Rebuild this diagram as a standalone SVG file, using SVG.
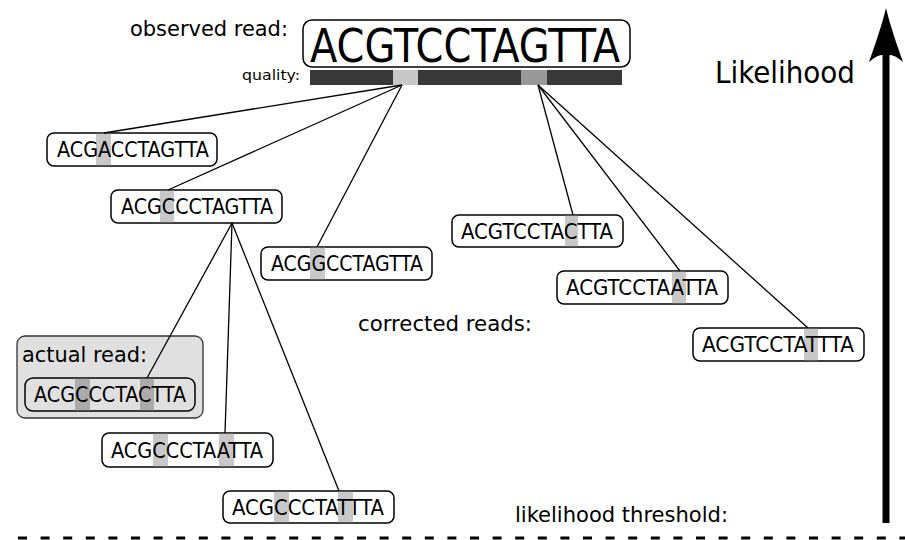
<svg xmlns="http://www.w3.org/2000/svg" width="905" height="540" viewBox="0 0 905 540">
<style>
text{font-family:"DejaVu Sans Condensed","DejaVu Sans","Liberation Sans",sans-serif;font-stretch:condensed;fill:#000}
.box{fill:#fff;stroke:#000;stroke-width:1.5}
.hl{fill:#c8c8c8}
.hld{fill:#ababab}
.rd{font-size:21px}
.lbl{font-size:22px}
.conn line{stroke:#000;stroke-width:1.3}
</style>
<rect width="905" height="540" fill="#fff"/>
<g id="observed">
<text x="130" y="36" class="lbl" textLength="158" lengthAdjust="spacingAndGlyphs">observed read:</text>
<rect x="303" y="20" width="327" height="47" rx="9" class="box" stroke-width="2"/>
<text x="310" y="62" font-size="47" textLength="310" lengthAdjust="spacingAndGlyphs">ACGTCCTAGTTA</text>
<text x="242" y="80" font-size="14" textLength="58" lengthAdjust="spacingAndGlyphs">quality:</text>
<rect x="310" y="70" width="312" height="15" fill="#383838"/>
<rect x="393" y="70" width="25" height="15" fill="#c8c8c8"/>
<rect x="521" y="70" width="26" height="15" fill="#999"/>
</g>
<g id="r1">
<rect x="47" y="133" width="170" height="33" rx="7" class="box"/>
<rect x="96" y="133.8" width="15" height="31.4" class="hl"/>
<text x="57" y="157" class="rd" textLength="152" lengthAdjust="spacingAndGlyphs">ACGACCTAGTTA</text>
</g>
<g id="r2">
<rect x="111" y="190" width="171" height="33" rx="7" class="box"/>
<rect x="160" y="190.8" width="14" height="31.4" class="hl"/>
<text x="121" y="214" class="rd" textLength="152" lengthAdjust="spacingAndGlyphs">ACGCCCTAGTTA</text>
</g>
<g id="r3">
<rect x="261" y="247" width="171" height="33" rx="7" class="box"/>
<rect x="310" y="247.8" width="15" height="31.4" class="hl"/>
<text x="271" y="271" class="rd" textLength="152" lengthAdjust="spacingAndGlyphs">ACGGCCTAGTTA</text>
</g>
<g id="r4">
<rect x="452" y="215" width="171" height="32" rx="7" class="box"/>
<rect x="565" y="215.8" width="13" height="30.4" class="hl"/>
<text x="461" y="238.5" class="rd" textLength="152" lengthAdjust="spacingAndGlyphs">ACGTCCTACTTA</text>
</g>
<g id="r5">
<rect x="557" y="271" width="171" height="33" rx="7" class="box"/>
<rect x="672" y="271.8" width="14" height="31.4" class="hl"/>
<text x="566" y="295" class="rd" textLength="152" lengthAdjust="spacingAndGlyphs">ACGTCCTAATTA</text>
</g>
<g id="r6">
<rect x="693" y="328" width="171" height="33" rx="7" class="box"/>
<rect x="804" y="328.8" width="14" height="31.4" class="hl"/>
<text x="702" y="352" class="rd" textLength="152" lengthAdjust="spacingAndGlyphs">ACGTCCTATTTA</text>
</g>
<g id="actual">
<rect x="17" y="336" width="186" height="82" rx="8" fill="#e0e0e0" stroke="#333" stroke-width="1.3"/>
<text x="22" y="362" class="lbl" textLength="125" lengthAdjust="spacingAndGlyphs">actual read:</text>
<rect x="25" y="378" width="170" height="33" rx="8" fill="#e0e0e0" stroke="#000" stroke-width="1.5"/>
<rect x="75" y="378.8" width="15" height="31.4" class="hld"/>
<rect x="140" y="378.8" width="14" height="31.4" class="hld"/>
<text x="34" y="402" class="rd" textLength="152" lengthAdjust="spacingAndGlyphs">ACGCCCTACTTA</text>
</g>
<g id="r8">
<rect x="102" y="433" width="171" height="34" rx="7" class="box"/>
<rect x="153" y="433.8" width="15" height="32.4" class="hl"/>
<rect x="219" y="433.8" width="15" height="32.4" class="hl"/>
<text x="111" y="457.5" class="rd" textLength="152" lengthAdjust="spacingAndGlyphs">ACGCCCTAATTA</text>
</g>
<g id="r9">
<rect x="223" y="491" width="171" height="32" rx="7" class="box"/>
<rect x="274" y="491.8" width="15" height="30.4" class="hl"/>
<rect x="338" y="491.8" width="15" height="30.4" class="hl"/>
<text x="232" y="514.5" class="rd" textLength="152" lengthAdjust="spacingAndGlyphs">ACGCCCTATTTA</text>
</g>
<g id="labels">
<text x="358" y="331" class="lbl" textLength="174" lengthAdjust="spacingAndGlyphs">corrected reads:</text>
<text x="715" y="83" font-size="31" textLength="140" lengthAdjust="spacingAndGlyphs">Likelihood</text>
<text x="515" y="522" class="lbl" textLength="213" lengthAdjust="spacingAndGlyphs">likelihood threshold:</text>
</g>
<g class="conn" id="connectors">
<line x1="402" y1="85" x2="104" y2="133"/>
<line x1="402" y1="85" x2="168" y2="190"/>
<line x1="402" y1="85" x2="317" y2="247"/>
<line x1="538" y1="85" x2="573" y2="215"/>
<line x1="538" y1="85" x2="680" y2="271"/>
<line x1="538" y1="85" x2="808" y2="328"/>
<line x1="232" y1="223" x2="147" y2="378"/>
<line x1="232" y1="223" x2="225" y2="433"/>
<line x1="232" y1="223" x2="339" y2="491"/>
</g>
<g id="axis">
<line x1="886" y1="523" x2="886" y2="50" stroke="#000" stroke-width="7"/>
<path d="M886,8 C890,25 897,45 903,62 Q893,53 886,55 Q879,53 869,62 C875,45 882,25 886,8 Z" fill="#000"/>
<line x1="18" y1="538" x2="905" y2="538" stroke="#000" stroke-width="3" stroke-dasharray="9 13.6"/>
</g>
</svg>
